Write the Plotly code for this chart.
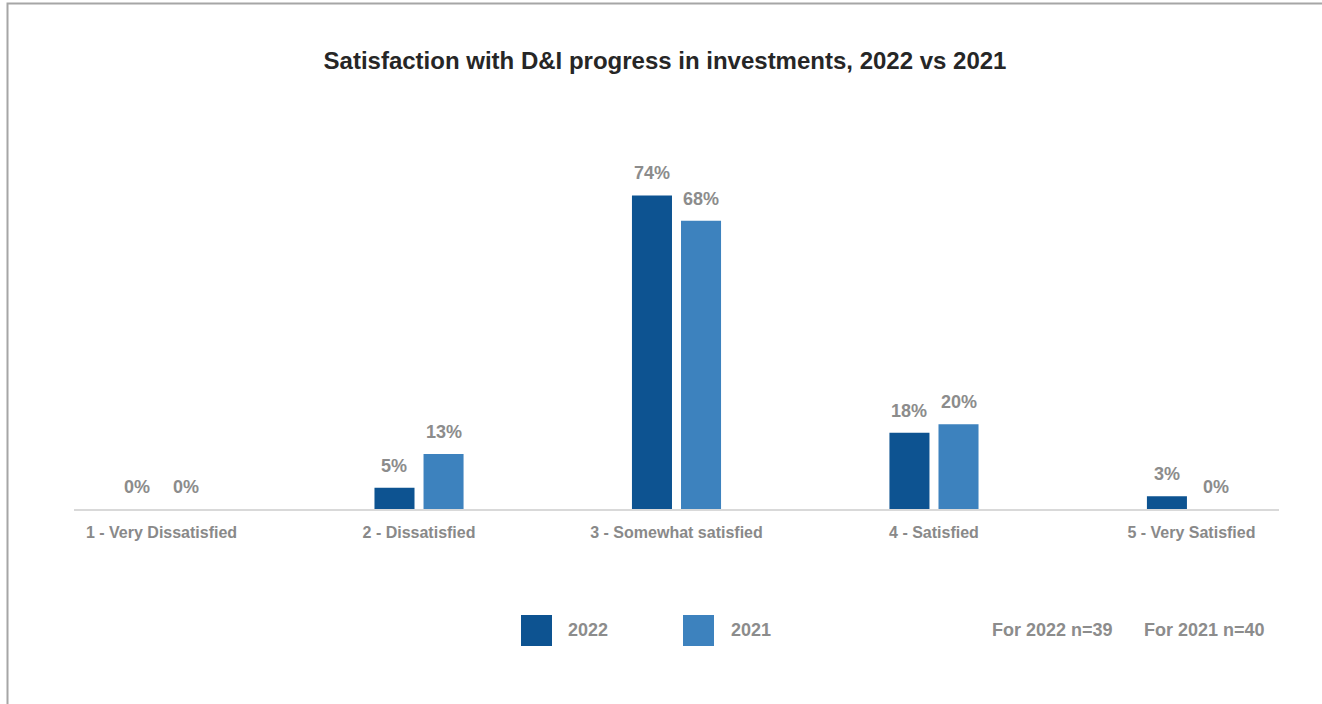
import plotly.graph_objects as go

# Survey results: share of respondents per satisfaction level (%)
categories = [
    "1 - Very Dissatisfied",
    "2 - Dissatisfied",
    "3 - Somewhat satisfied",
    "4 - Satisfied",
    "5 - Very Satisfied",
]
series_names = ["2022", "2021"]
values_2022 = [0, 5, 74, 18, 3]
values_2021 = [0, 13, 68, 20, 0]
sample_sizes = [39, 40]

title_text = "Satisfaction with D&I progress in investments, 2022 vs 2021"

colors = ["#0D5391", "#3D82BE"]
label_gray = "#8C8C8C"
font_family = "Arial, Liberation Sans, sans-serif"

W, H = 1322, 704
M_L, M_R, M_T, M_B = 74, 43, 170, 195
plot_w = W - M_L - M_R
plot_h = H - M_T - M_B


def px_x(p):
    """Pixel column -> paper x."""
    return (p - M_L) / plot_w


def px_y(p):
    """Pixel row -> paper y."""
    return (H - M_B - p) / plot_h


x_range = [-0.34, 4.34]
bargap = 0.619
cat_px = plot_w / (x_range[1] - x_range[0])
slot_px = (1 - bargap) / 2 * cat_px  # horizontal distance between paired bars

fig = go.Figure()
for name, vals, col in zip(series_names, [values_2022, values_2021], colors):
    fig.add_trace(go.Bar(
        x=categories, y=vals, name=name,
        marker=dict(color=col, line=dict(width=0)),
        showlegend=False, hoverinfo="skip",
    ))

# value labels above each bar
annotations = []
for i, vals in enumerate([values_2022, values_2021]):
    shift = (i - 0.5) * slot_px
    for cat, v in zip(categories, vals):
        annotations.append(dict(
            x=cat, y=v, xref="x", yref="y", text=f"{v}%",
            showarrow=False, xanchor="center", yanchor="bottom",
            xshift=shift, yshift=10,
            font=dict(family=font_family, size=18, color=label_gray, weight="bold"),
        ))

# legend swatches and labels
shapes = []
legend_boxes = [(521, 552), (683, 714)]
legend_text_x = [566, 729]
for (x0, x1), tx, name, col in zip(legend_boxes, legend_text_x, series_names, colors):
    shapes.append(dict(
        type="rect", xref="paper", yref="paper",
        x0=px_x(x0), x1=px_x(x1), y0=px_y(646), y1=px_y(615),
        fillcolor=col, line=dict(width=0),
    ))
    annotations.append(dict(
        x=px_x(tx), y=px_y(630), xref="paper", yref="paper", text=name,
        showarrow=False, xanchor="left", yanchor="middle",
        font=dict(family=font_family, size=18, color=label_gray, weight="bold"),
    ))

# sample size notes
for name, n, tx in zip(series_names, sample_sizes, [990, 1142]):
    annotations.append(dict(
        x=px_x(tx), y=px_y(630), xref="paper", yref="paper",
        text=f"For {name} n={n}",
        showarrow=False, xanchor="left", yanchor="middle",
        font=dict(family=font_family, size=18, color=label_gray, weight="bold"),
    ))

# outer frame
shapes.append(dict(
    type="rect", xref="paper", yref="paper",
    x0=px_x(7.5), x1=px_x(1340), y0=px_y(720), y1=px_y(3.5),
    line=dict(color="#A6A6A6", width=2), fillcolor="rgba(0,0,0,0)",
    layer="below",
))

fig.update_layout(
    width=W, height=H, autosize=False,
    margin=dict(l=M_L, r=M_R, t=M_T, b=M_B),
    paper_bgcolor="white", plot_bgcolor="white",
    barmode="group", bargap=bargap, bargroupgap=0.184,
    title=dict(
        text=title_text, x=665 / W, xanchor="center",
        y=1 - 61 / H, yanchor="middle", yref="container",
        font=dict(family=font_family, size=24, color="#262626", weight="bold"),
    ),
    xaxis=dict(
        type="category", categoryorder="array", categoryarray=categories,
        range=x_range, showgrid=False, zeroline=False,
        showline=True, linecolor="#D9D9D9", linewidth=2,
        ticks="", ticklabelstandoff=8,
        tickfont=dict(family=font_family, size=16, color="#898989", weight="bold"),
    ),
    yaxis=dict(range=[0, 80], visible=False, showgrid=False, zeroline=False),
    annotations=annotations,
    shapes=shapes,
    showlegend=False,
)

fig.write_html("out.html")
